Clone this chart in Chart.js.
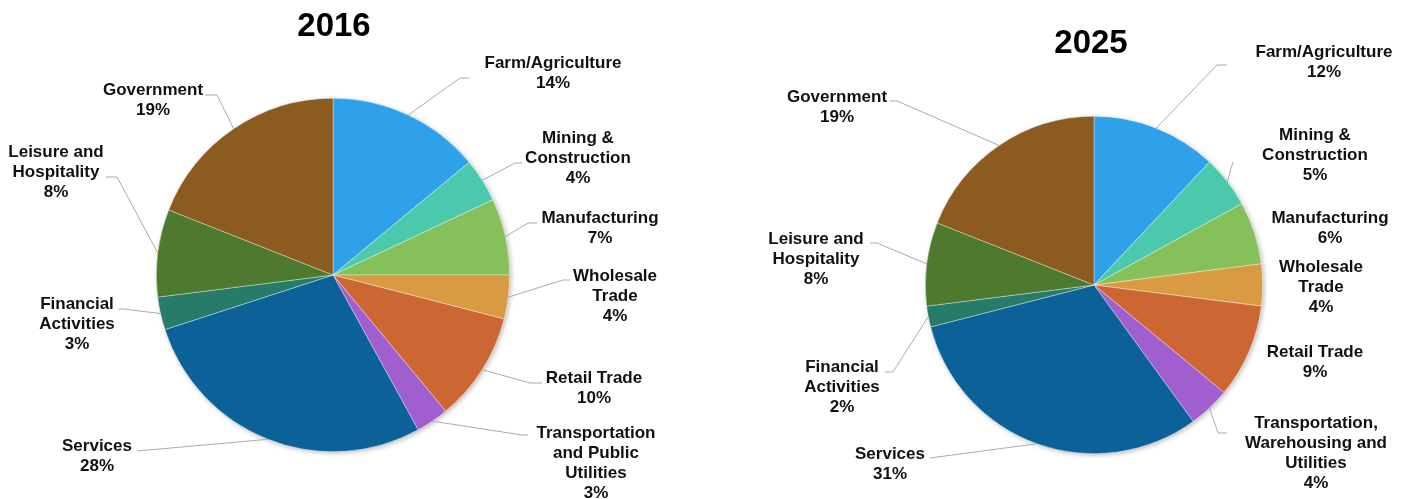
<!DOCTYPE html>
<html>
<head>
<meta charset="utf-8">
<title>Employment by sector 2016 / 2025</title>
<script src="https://cdn.jsdelivr.net/npm/chart.js@4.4.1/dist/chart.umd.min.js"></script>
<style>
  html, body { margin: 0; padding: 0; background: #fff; }
  #wrap { position: relative; width: 1405px; height: 499px; }
  #wrap canvas { position: absolute; left: 0; top: 0; }
</style>
</head>
<body>
<div id="wrap">
  <canvas id="chart2016" width="1405" height="499"></canvas>
  <canvas id="chart2025" width="1405" height="499"></canvas>
</div>
<script>
// Dane - udzialy sektorow (%)
const categories2016 = [
    ['Farm/Agriculture'], ['Mining &', 'Construction'], ['Manufacturing'], ['Wholesale', 'Trade'],
    ['Retail Trade'], ['Transportation', 'and Public', 'Utilities'], ['Services'],
    ['Financial', 'Activities'], ['Leisure and', 'Hospitality'], ['Government']
];
const values2016 = [14, 4, 7, 4, 10, 3, 28, 3, 8, 19];

const categories2025 = [
    ['Farm/Agriculture'], ['Mining &', 'Construction'], ['Manufacturing'], ['Wholesale', 'Trade'],
    ['Retail Trade'], ['Transportation,', 'Warehousing and', 'Utilities'], ['Services'],
    ['Financial', 'Activities'], ['Leisure and', 'Hospitality'], ['Government']
];
const values2025 = [12, 5, 6, 4, 9, 4, 31, 2, 8, 19];

const sectorColors = [
    '#2EA1EA', '#4BC9AD', '#86C05B', '#D99B42', '#CC6633',
    '#A15ECE', '#0D6199', '#267B69', '#4E7A2F', '#8B5B1F'
];

// Rozmieszczenie etykiet: [x, y pierwszej linii, lamanie linii x, y, koniec x] albo null dla linii
const labelPos2016 = [
    [553, 63, 460, 78, 469], [578, 138, 515, 163, 522], [600, 218, 528, 223, 537],
    [615, 276, 563, 280, 570], [594, 378, 530, 383, 542], [596, 433, 522, 435, 528],
    [97, 446, 137, 451, 137], [77, 304, 123, 309, 118], [56, 152, 117, 177, 106],
    [153, 90, 217, 95, 205]
];
const labelPos2025 = [
    [1324, 52, 1217, 65, 1227], [1315, 135, 1233, 162, 1233], [1330, 218, null, null, null],
    [1321, 267, null, null, null], [1315, 352, null, null, null], [1316, 423, 1218, 433, 1227],
    [890, 454, 930, 458, 930], [842, 367, 893, 372, 885], [816, 239, 877, 243, 870],
    [837, 97, 897, 101, 890]
];

const pieLabelsPlugin = {
    id: 'pieLabels',
    beforeDatasetsDraw(chart) {
        // delikatny cien pod kolem
        const arc = chart.getDatasetMeta(0).data[0];
        const ctx = chart.ctx;
        ctx.save();
        ctx.shadowColor = 'rgba(0,0,0,0.28)';
        ctx.shadowBlur = 5;
        ctx.shadowOffsetX = 1.5;
        ctx.shadowOffsetY = 1.5;
        ctx.fillStyle = '#fff';
        ctx.beginPath();
        ctx.arc(arc.x, arc.y, arc.outerRadius, 0, Math.PI * 2);
        ctx.fill();
        ctx.restore();
    },
    afterDatasetsDraw(chart, args, opts) {
        const ctx = chart.ctx;
        const meta = chart.getDatasetMeta(0);
        const values = chart.data.datasets[0].data;
        ctx.save();

        meta.data.forEach((arc, i) => {
            const pos = opts.layout[i];
            if (pos[2] !== null) {
                const mid = (arc.startAngle + arc.endAngle) / 2;
                const sx = arc.x + Math.cos(mid) * arc.outerRadius;
                const sy = arc.y + Math.sin(mid) * arc.outerRadius;
                ctx.strokeStyle = '#ABABAB';
                ctx.lineWidth = 1;
                ctx.beginPath();
                ctx.moveTo(sx, sy);
                ctx.lineTo(pos[2], pos[3]);
                ctx.lineTo(pos[4], pos[3]);
                ctx.stroke();
            }
            const lines = chart.data.labels[i].concat([values[i] + '%']);
            ctx.fillStyle = '#111';
            ctx.font = 'bold 17px "Liberation Sans", Arial, sans-serif';
            ctx.textAlign = 'center';
            ctx.textBaseline = 'middle';
            lines.forEach((txt, k) => ctx.fillText(txt, pos[0], pos[1] + k * 20));
        });

        ctx.font = 'bold 33px "Liberation Sans", Arial, sans-serif';
        ctx.fillStyle = '#000';
        ctx.textAlign = 'center';
        ctx.textBaseline = 'middle';
        ctx.fillText(opts.title, opts.titleX, opts.titleY);
        ctx.restore();
    }
};

function renderPie(canvasId, labels, values, padding, labelLayout, title, titleX, titleY) {
    const ctx = document.getElementById(canvasId).getContext('2d');
    new Chart(ctx, {
        type: 'pie',
        data: {
            labels: labels,
            datasets: [{
                data: values,
                backgroundColor: sectorColors,
                borderColor: 'rgba(255,255,255,0.6)',
                borderWidth: 0.6
            }]
        },
        options: {
            responsive: false,
            animation: false,
            rotation: 0,
            layout: { padding: padding },
            plugins: {
                legend: { display: false },
                tooltip: { enabled: false },
                pieLabels: { layout: labelLayout, title: title, titleX: titleX, titleY: titleY }
            }
        },
        plugins: [pieLabelsPlugin]
    });
}

renderPie('chart2016', categories2016, values2016,
    { left: 156, right: 895, top: 98, bottom: 47 }, labelPos2016, '2016', 334, 27);
renderPie('chart2025', categories2025, values2025,
    { left: 925, right: 142, top: 116, bottom: 45 }, labelPos2025, '2025', 1091, 44);
</script>
</body>
</html>
